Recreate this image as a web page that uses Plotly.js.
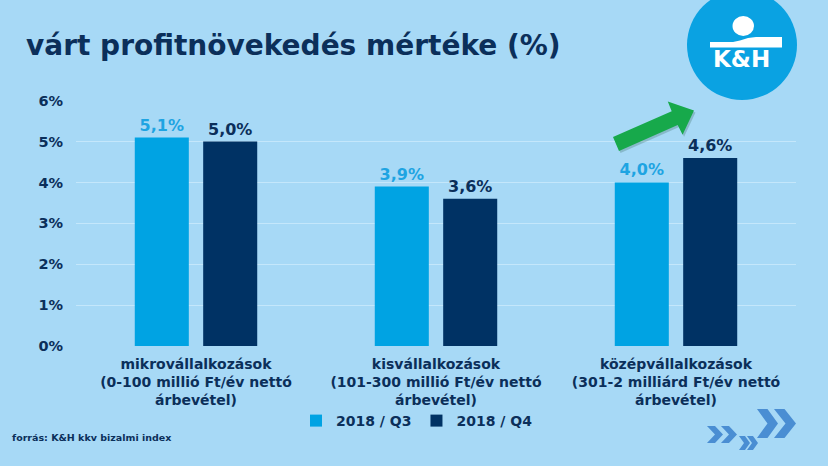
<!DOCTYPE html>
<html>
<head>
<meta charset="utf-8">
<script src="https://cdn.plot.ly/plotly-3.0.1.min.js"></script>
<style>
  html, body { margin: 0; padding: 0; background: #a7d9f6; }
  #chart { width: 828px; height: 466px; }
</style>
</head>
<body>
<div id="chart"></div>
<script>
// ---- data ----
var categories = [
  "mikrovállalkozások<br>(0-100 millió Ft/év nettó<br>árbevétel)",
  "kisvállalkozások<br>(101-300 millió Ft/év nettó<br>árbevétel)",
  "középvállalkozások<br>(301-2 milliárd Ft/év nettó<br>árbevétel)"
];
var seriesNames = ["2018 / Q3", "2018 / Q4"];
var q3Values = [5.1, 3.9, 4.0];
var q4Values = [5.0, 3.6, 4.6];
var yTickValues = [0, 1, 2, 3, 4, 5, 6];
var yTickLabels = ["0%", "1%", "2%", "3%", "4%", "5%", "6%"];

// ---- style ----
var W = 828, H = 466;
var BG = "#a7d9f6";
var LIGHT = "#00a3e3";
var DARK = "#003264";
var NAVY = "#0b2f5a";
var FONT = "DejaVu Sans, Verdana, sans-serif";

function px(x) { return x / W; }
function py(y) { return 1 - y / H; }
function pathFrom(points) {
  return "M" + points.map(function (p) { return px(p[0]).toFixed(5) + "," + py(p[1]).toFixed(5); }).join(" L") + " Z";
}
function chevron(left, top, w, h, t) {
  return pathFrom([[left, top], [left + t, top], [left + w, top + h / 2], [left + t, top + h], [left, top + h], [left + w - t, top + h / 2]]);
}

var traces = [
  {
    type: "bar", name: seriesNames[0], x: categories, y: q3Values,
    marker: { color: LIGHT },
    texttemplate: "%{y:.1f}%", textposition: "outside", cliponaxis: false,
    textfont: { family: FONT, size: 16, color: "#1ea4e2", weight: "bold" },
    hoverinfo: "skip"
  },
  {
    type: "bar", name: seriesNames[1], x: categories, y: q4Values,
    marker: { color: DARK },
    texttemplate: "%{y:.1f}%", textposition: "outside", cliponaxis: false,
    textfont: { family: FONT, size: 16, color: NAVY, weight: "bold" },
    hoverinfo: "skip"
  }
];

// arrow geometry (decoration)
var arrowPts = [[613, 137], [671.7, 111.2], [667.8, 101.5], [694, 110.5], [682.6, 134.7], [677.7, 125], [619, 151]];
var arrowShadow = arrowPts.map(function (p) { return [p[0] + 1.5, p[1] + 2]; });

var CHEV = "#4a8ed3";
var shapes = [
  // logo circle
  { type: "circle", xref: "paper", yref: "paper", x0: px(687), x1: px(797), y0: py(100), y1: py(-10), fillcolor: "#0aa2e2", line: { width: 0 }, layer: "above" },
  // logo head
  { type: "circle", xref: "paper", yref: "paper", x0: px(732.5), x1: px(754), y0: py(36), y1: py(16), fillcolor: "#ffffff", line: { width: 0 }, layer: "above" },
  // logo shoulder band
  { type: "path", xref: "paper", yref: "paper", path: pathFrom([[710, 42], [733, 42], [740, 40.5], [748, 38], [756, 37], [782, 37], [782, 47.5], [710, 47.5]]), fillcolor: "#ffffff", line: { width: 0 }, layer: "above" },
  // arrow shadow + arrow
  { type: "path", xref: "paper", yref: "paper", path: pathFrom(arrowShadow), fillcolor: "rgba(40,90,70,0.25)", line: { width: 0 }, layer: "above" },
  { type: "path", xref: "paper", yref: "paper", path: pathFrom(arrowPts), fillcolor: "#17a94b", line: { width: 0 }, layer: "above" },
  // chevrons
  { type: "path", xref: "paper", yref: "paper", path: chevron(707, 426, 16, 17, 8), fillcolor: CHEV, line: { width: 0 } },
  { type: "path", xref: "paper", yref: "paper", path: chevron(721, 426, 16, 17, 8), fillcolor: CHEV, line: { width: 0 } },
  { type: "path", xref: "paper", yref: "paper", path: chevron(739, 436, 11, 14, 6), fillcolor: CHEV, line: { width: 0 } },
  { type: "path", xref: "paper", yref: "paper", path: chevron(747, 436, 11, 14, 6), fillcolor: CHEV, line: { width: 0 } },
  { type: "path", xref: "paper", yref: "paper", path: chevron(757, 409, 21, 29, 10.5), fillcolor: CHEV, line: { width: 0 } },
  { type: "path", xref: "paper", yref: "paper", path: chevron(774, 409, 22, 29, 10.5), fillcolor: CHEV, line: { width: 0 } }
];

var annotations = [
  { xref: "paper", yref: "paper", x: px(741.5), y: py(59.5), text: "K&H", showarrow: false, xanchor: "center", yanchor: "middle",
    font: { family: FONT, size: 23, color: "#ffffff", weight: "bold" } },
  { xref: "paper", yref: "paper", x: px(10), y: py(437), text: "forrás: K&H kkv bizalmi index", showarrow: false, xanchor: "left", yanchor: "middle",
    font: { family: FONT, size: 9.5, color: NAVY, weight: "bold" } }
];

var layout = {
  width: W, height: H,
  margin: { l: 0, r: 0, t: 0, b: 0, pad: 0 },
  paper_bgcolor: BG, plot_bgcolor: BG,
  separators: ",.",
  title: {
    text: "várt profitnövekedés mértéke (%)",
    x: px(26), xanchor: "left", y: py(45), yanchor: "middle", xref: "paper", yref: "paper",
    font: { family: FONT, size: 28, color: NAVY, weight: "bold" }
  },
  barmode: "group",
  bargap: 0.43,
  bargroupgap: 0.21,
  showlegend: true,
  legend: {
    orientation: "h", x: px(417), xanchor: "center", y: py(421), yanchor: "middle",
    bgcolor: "rgba(0,0,0,0)", font: { family: FONT, size: 14, color: NAVY, weight: "bold" },
    itemclick: false, itemdoubleclick: false, traceorder: "normal", tracegroupgap: 0, itemwidth: 30
  },
  xaxis: {
    type: "category", domain: [px(76), px(796)],
    showgrid: false, showline: false, zeroline: false, ticks: "",
    tickfont: { family: FONT, size: 14, color: NAVY, weight: "bold" },
    ticklabelstandoff: 8, automargin: false
  },
  yaxis: {
    domain: [py(346), py(100.7)], range: [0, 6],
    tickmode: "array", tickvals: yTickValues, ticktext: yTickLabels,
    showgrid: true, gridcolor: "#c4e7fb", gridwidth: 1,
    zeroline: false, showline: false, ticks: "",
    tickfont: { family: FONT, size: 14.5, color: NAVY, weight: "bold" },
    ticklabelstandoff: 12, automargin: false
  },
  shapes: shapes,
  annotations: annotations
};

Plotly.newPlot("chart", traces, layout, { displayModeBar: false, staticPlot: true });
</script>
</body>
</html>
